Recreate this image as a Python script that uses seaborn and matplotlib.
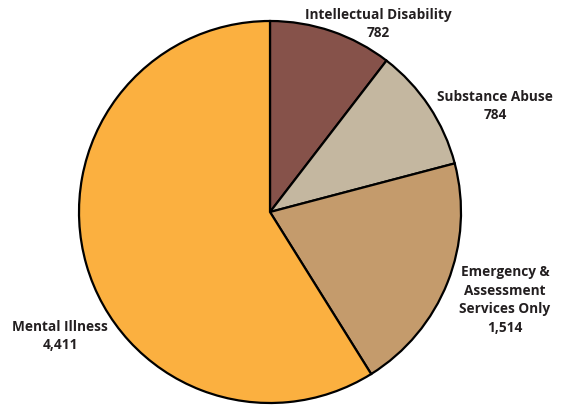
import matplotlib
matplotlib.use('Agg')
import matplotlib.pyplot as plt
import seaborn as sns

categories = ['Intellectual Disability', 'Substance Abuse',
              'Emergency &\nAssessment\nServices Only', 'Mental Illness']
values = [782, 784, 1514, 4411]
value_labels = ['782', '784', '1,514', '4,411']
colors = sns.color_palette(['#86524A', '#C4B7A0', '#C49B6C', '#FBB040'])

sns.set_theme(style='white')
plt.rcParams['font.family'] = ['Open Sans', 'DejaVu Sans']

W, H = 569, 407
cx, cy, R = 270, 212, 191


def px(x, y):
    # pixel position -> data coords (radius 1 pie)
    return (x - cx) / R, (cy - y) / R


fig = plt.figure(figsize=(W / 100, H / 100), dpi=100)
ax = fig.add_axes([0, 0, 1, 1])
ax.pie(values, colors=colors, startangle=90, counterclock=False, radius=1,
       wedgeprops=dict(edgecolor='black', linewidth=1.6))
ax.set_xlim(-cx / R, (W - cx) / R)
ax.set_ylim((cy - H) / R, cy / R)
ax.set_aspect('auto')
ax.axis('off')

label_pos = [(378, 24), (495, 106), (505, 300), (60, 336)]
for cat, val, (x, y) in zip(categories, value_labels, label_pos):
    tx, ty = px(x, y)
    ax.text(tx, ty, f'{cat}\n{val}', ha='center', va='center',
            fontsize=9.8, fontweight='bold', color='#231F20', linespacing=1.42)

fig.savefig('out.png', dpi=100)
